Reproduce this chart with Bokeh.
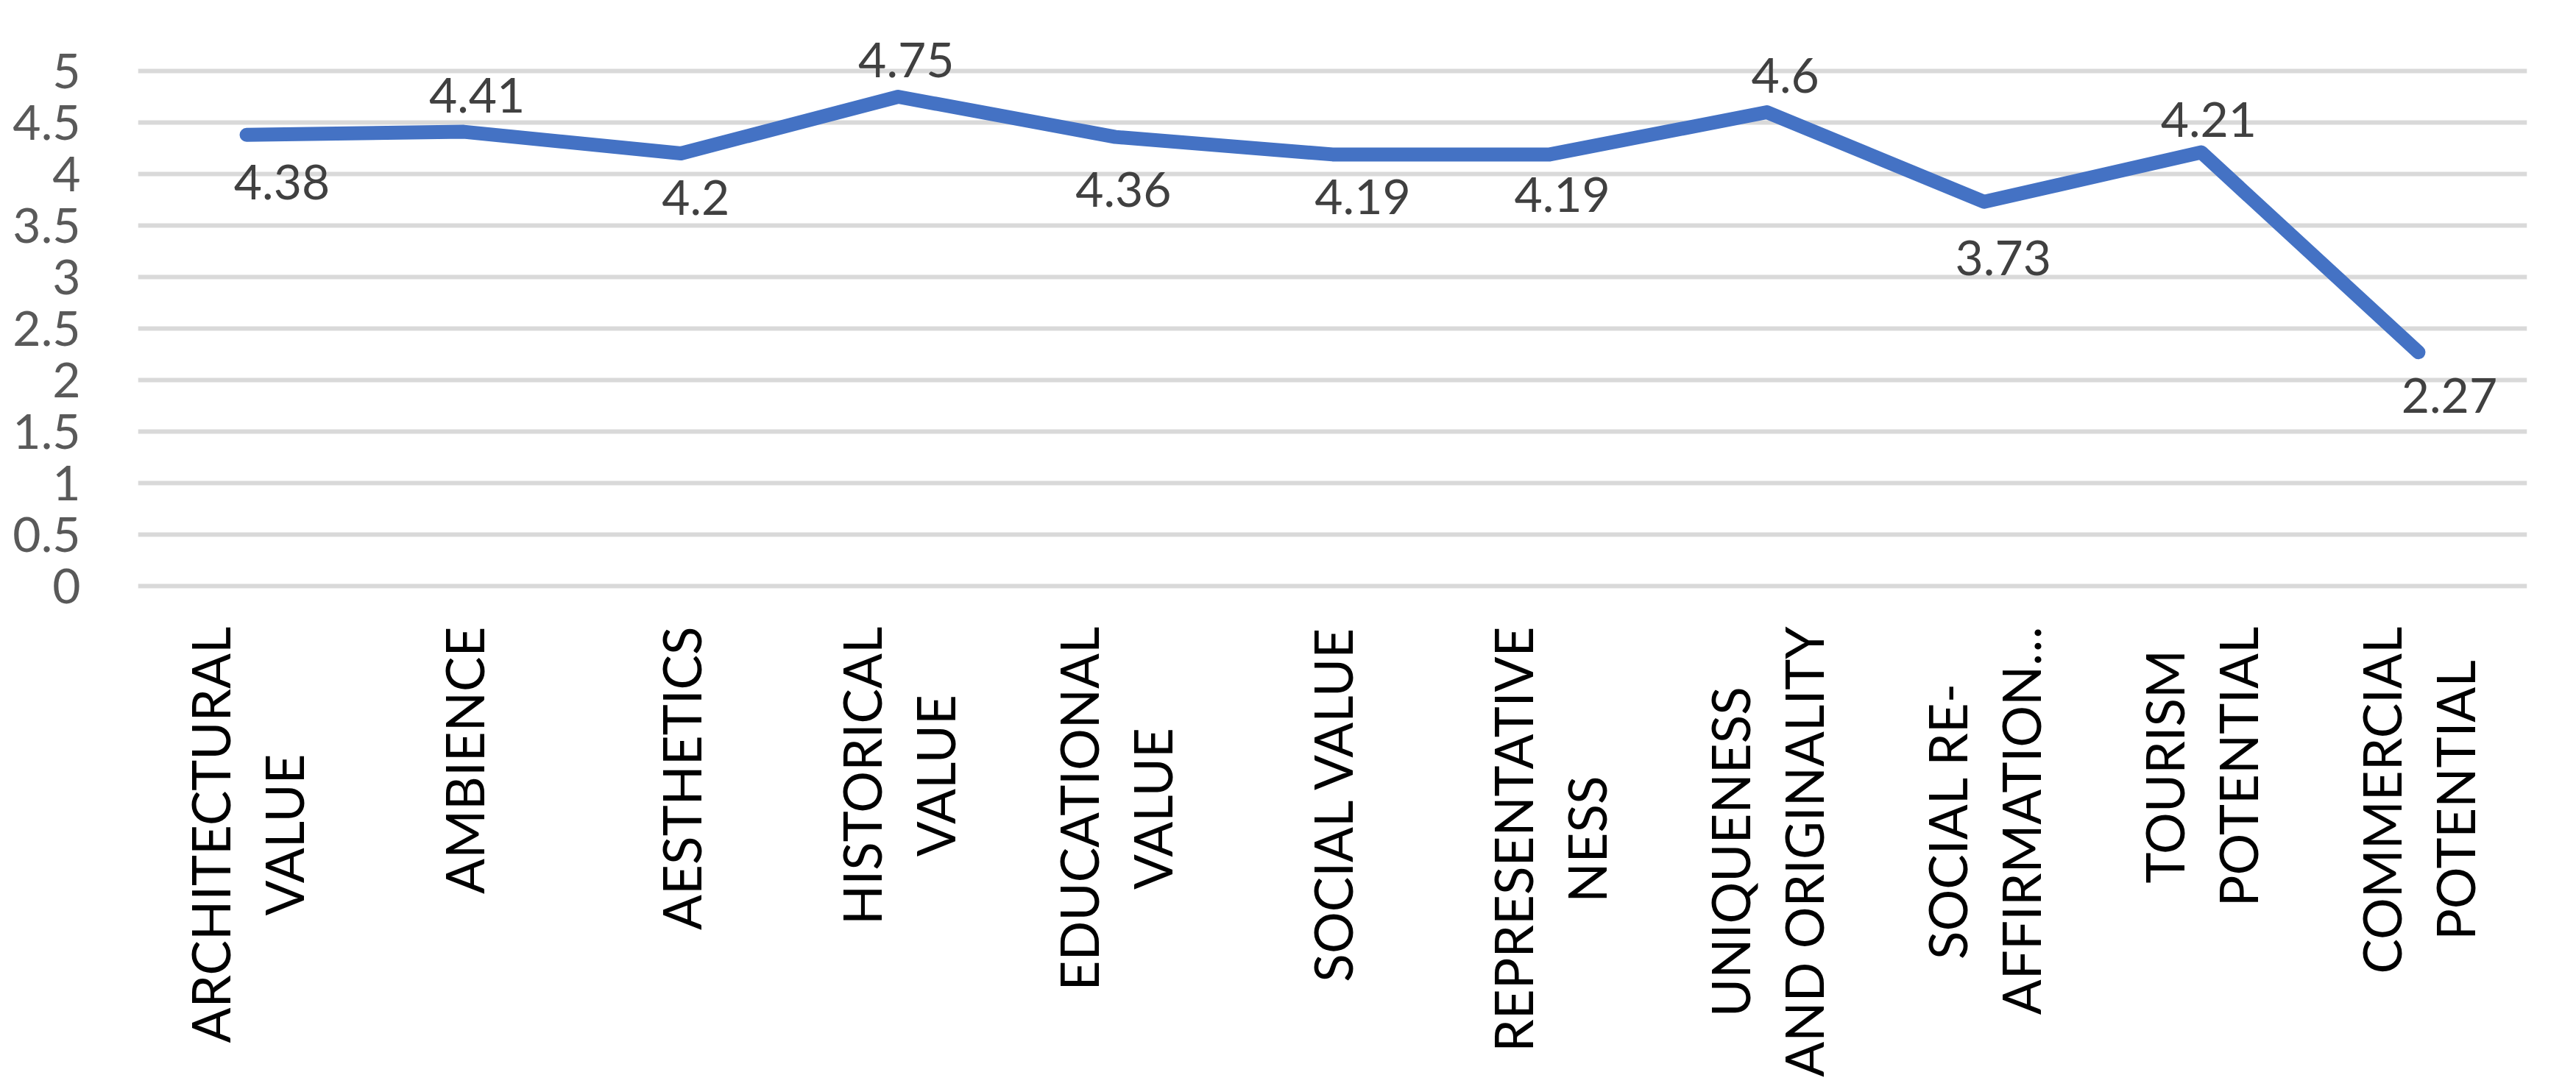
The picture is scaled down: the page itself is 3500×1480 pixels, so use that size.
import glob
import math

from bokeh.plotting import figure
from bokeh.models import ColumnDataSource, FactorRange, Range1d, FixedTicker, NumeralTickFormatter
from bokeh.core.properties import value
from bokeh.embed import file_html
from bokeh.resources import INLINE

# ---------------- data ----------------
categories = [
    "ARCHITECTURAL VALUE", "AMBIENCE", "AESTHETICS", "HISTORICAL VALUE",
    "EDUCATIONAL VALUE", "SOCIAL VALUE", "REPRESENTATIVE NESS",
    "UNIQUENESS AND ORIGINALITY", "SOCIAL RE-AFFIRMATION…",
    "TOURISM POTENTIAL", "COMMERCIAL POTENTIAL",
]
category_lines = [
    ["ARCHITECTURAL", "VALUE"], ["AMBIENCE"], ["AESTHETICS"], ["HISTORICAL", "VALUE"],
    ["EDUCATIONAL", "VALUE"], ["SOCIAL VALUE"], ["REPRESENTATIVE", "NESS"],
    ["UNIQUENESS", "AND ORIGINALITY"], ["SOCIAL RE-", "AFFIRMATION…"],
    ["TOURISM", "POTENTIAL"], ["COMMERCIAL", "POTENTIAL"],
]
scores = [4.38, 4.41, 4.2, 4.75, 4.36, 4.19, 4.19, 4.6, 3.73, 4.21, 2.27]
score_labels = ["4.38", "4.41", "4.2", "4.75", "4.36", "4.19", "4.19", "4.6", "3.73", "4.21", "2.27"]
y_ticks = [0, 0.5, 1, 1.5, 2, 2.5, 3, 3.5, 4, 4.5, 5]

# ---------------- styling / layout ----------------
label_dx_px = [48, 18, 20, 11, 11, 41, 17, 25, 26, 10, 42]      # data label horizontal shift
label_dy_px = [64, -50, 60, -50, 71, 58, 55, -50, 76, -45, 59]  # + = below the point

W, H = 3484, 1464
LEFT, RIGHT = 187, 51
ZERO_Y = 796          # figure-px row of value 0
PX_PER_UNIT = 140.0
CAT_FONT = 71
CAT_TOP = 851         # figure-px where the category text ends (top)
LINE_SP = 100

y_top = ZERO_Y / PX_PER_UNIT
y_bot = -(H - ZERO_Y) / PX_PER_UNIT


def find_font():
    for pat in ["/usr/share/fonts/**/Lato-Regular.ttf", "/usr/local/share/fonts/**/Lato-Regular.ttf",
                "/usr/share/fonts/**/Lato-Reg*.ttf", "/root/.fonts/**/Lato-Regular.ttf"]:
        hits = glob.glob(pat, recursive=True)
        if hits:
            return hits[0]
    return None


_font_path = find_font()
_font = None
if _font_path:
    try:
        from PIL import ImageFont
        _font = ImageFont.truetype(_font_path, CAT_FONT)
    except Exception:
        _font = None


def text_len(s):
    if _font is not None:
        try:
            return float(_font.getlength(s))
        except Exception:
            pass
    return 0.62 * CAT_FONT * len(s)


p = figure(
    width=W, height=H,
    x_range=FactorRange(*categories, range_padding=0),
    y_range=Range1d(y_bot, y_top),
    x_axis_location=None,
    title=None,
    toolbar_location=None,
    output_backend="svg",
    min_border_left=LEFT, min_border_right=RIGHT,
    min_border_top=0, min_border_bottom=0,
)
p.outline_line_color = None
p.background_fill_color = "white"
p.border_fill_color = "white"

ticker = FixedTicker(ticks=y_ticks)
p.yaxis.ticker = ticker
p.yaxis.formatter = NumeralTickFormatter(format="0.[0]")
p.yaxis.axis_line_color = None
p.yaxis.major_tick_line_color = None
p.yaxis.minor_tick_line_color = None
p.yaxis.major_label_text_font = "Lato"
p.yaxis.major_label_text_font_size = "66px"
p.yaxis.major_label_text_color = "#595959"
p.yaxis.major_label_standoff = 72

p.xgrid.grid_line_color = None
p.ygrid.ticker = ticker
p.ygrid.grid_line_color = "#d9d9d9"
p.ygrid.grid_line_width = 6

# line
p.line(x=categories, y=scores, line_color="#4472C4", line_width=19,
       line_cap="round", line_join="round")

# data labels
lab_y = [v - dy / PX_PER_UNIT for v, dy in zip(scores, label_dy_px)]
p.text(x=categories, y=lab_y, text=score_labels, x_offset=label_dx_px,
       text_align="center", text_baseline="middle",
       text_font=value("Lato"), text_font_size="66px", text_color="#404040")

# category labels (rotated, lines centred within the block, block ends at top)
cx, cy, ct, cxo = [], [], [], []
for cat, lines in zip(categories, category_lines):
    L = max(text_len(s) for s in lines)
    center_px = CAT_TOP + L / 2.0
    ydata = (ZERO_Y - center_px) / PX_PER_UNIT
    n = len(lines)
    for j, s in enumerate(lines):
        cx.append(cat)
        cy.append(ydata)
        ct.append(s)
        cxo.append((j - (n - 1) / 2.0) * LINE_SP)

src = ColumnDataSource(dict(x=cx, y=cy, text=ct, xo=cxo))
p.text(x="x", y="y", text="text", x_offset="xo", source=src, angle=math.pi / 2,
       text_align="center", text_baseline="middle",
       text_font=value("Lato"), text_font_size=f"{CAT_FONT}px", text_color="#000000")

open("out.html", "w").write(file_html(p, INLINE))
